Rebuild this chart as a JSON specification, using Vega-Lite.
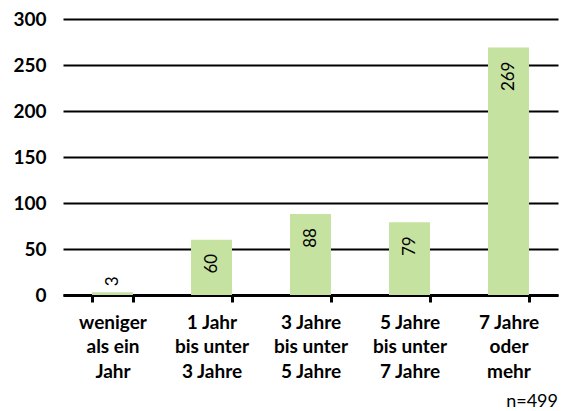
{
  "$schema": "https://vega.github.io/schema/vega-lite/v6.json",
  "width": 495,
  "height": 276,
  "padding": {"left": 12, "top": 10, "right": 7, "bottom": 5},
  "background": "white",
  "title": {
    "text": "n=499",
    "orient": "bottom",
    "anchor": "end",
    "fontSize": 18,
    "fontWeight": "normal",
    "font": "Lato",
    "color": "black",
    "offset": 12
  },
  "data": {
    "values": [
      {"kategorie": "weniger|als ein|Jahr", "anzahl": 3},
      {"kategorie": "1 Jahr|bis unter|3 Jahre", "anzahl": 60},
      {"kategorie": "3 Jahre|bis unter|5 Jahre", "anzahl": 88},
      {"kategorie": "5 Jahre|bis unter|7 Jahre", "anzahl": 79},
      {"kategorie": "7 Jahre|oder|mehr", "anzahl": 269}
    ]
  },
  "encoding": {
    "x": {
      "field": "kategorie",
      "type": "nominal",
      "sort": null,
      "scale": {"paddingInner": 0.586, "paddingOuter": 0.293},
      "axis": {
        "title": null,
        "labelAngle": 0,
        "labelExpr": "split(datum.label, '|')",
        "labelFont": "Lato",
        "labelFontSize": 19,
        "labelFontWeight": "bold",
        "labelColor": "black",
        "labelLineHeight": 24.5,
        "labelPadding": 11,
        "labelBaseline": "top",
        "domainColor": "black",
        "domainWidth": 3,
        "tickColor": "black",
        "tickWidth": 3,
        "tickSize": 7,
        "tickBand": "extent",
        "grid": false
      }
    },
    "y": {
      "field": "anzahl",
      "type": "quantitative",
      "scale": {"domain": [0, 300]},
      "axis": {
        "title": null,
        "values": [0, 50, 100, 150, 200, 250, 300],
        "labelFont": "Lato",
        "labelFontSize": 19,
        "labelFontWeight": "bold",
        "labelColor": "black",
        "labelPadding": 17,
        "domain": false,
        "ticks": false,
        "grid": true,
        "gridColor": "black",
        "gridWidth": 2,
        "gridOpacity": 1
      }
    }
  },
  "layer": [
    {
      "mark": {"type": "bar", "color": "#c6e2a0"}
    },
    {
      "transform": [{"filter": "datum.anzahl >= 10"}],
      "mark": {
        "type": "text",
        "angle": 270,
        "align": "right",
        "baseline": "middle",
        "dx": -14,
        "font": "Lato",
        "fontSize": 17,
        "color": "black"
      },
      "encoding": {"text": {"field": "anzahl", "type": "quantitative"}}
    },
    {
      "transform": [{"filter": "datum.anzahl < 10"}],
      "mark": {
        "type": "text",
        "angle": 270,
        "align": "left",
        "baseline": "middle",
        "dx": 6,
        "font": "Lato",
        "fontSize": 17,
        "color": "black"
      },
      "encoding": {"text": {"field": "anzahl", "type": "quantitative"}}
    }
  ],
  "config": {"view": {"stroke": null}}
}
